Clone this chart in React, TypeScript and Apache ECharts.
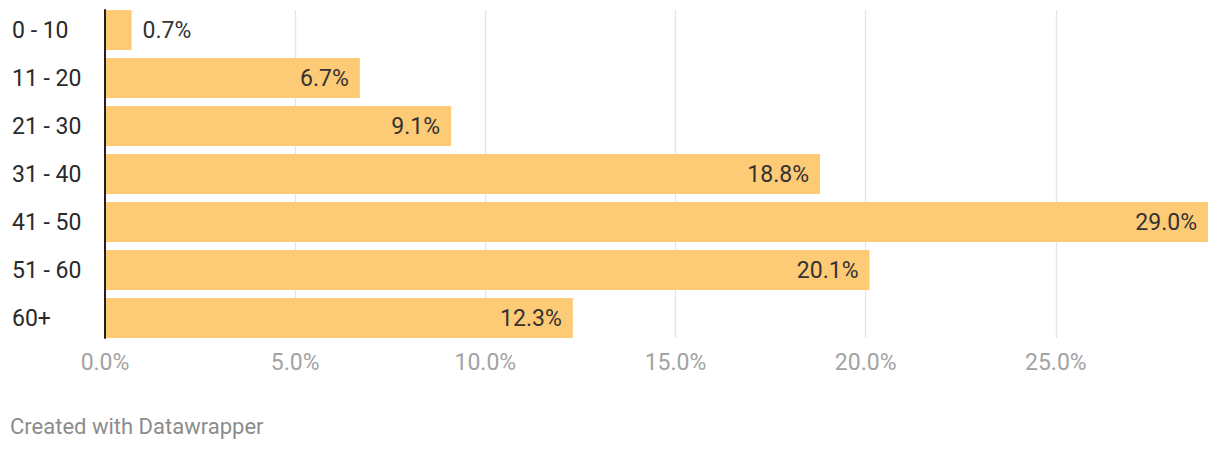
import React, { useEffect, useRef } from "react";
import * as echarts from "echarts";

const categories = ["0 - 10", "11 - 20", "21 - 30", "31 - 40", "41 - 50", "51 - 60", "60+"];
const values = [0.7, 6.7, 9.1, 18.8, 29.0, 20.1, 12.3];
const xTicks = [0, 5, 10, 15, 20, 25];
const footer = "Created with Datawrapper";

const FONT = "Roboto, 'Noto Sans', sans-serif";

export default function App() {
  const ref = useRef<HTMLDivElement>(null);
  useEffect(() => {
    if (!ref.current) return;
    const chart = echarts.init(ref.current, null, { renderer: "svg" });
    const xMax = values.reduce((a, b) => Math.max(a, b), 0);
    chart.setOption({
      animation: false,
      textStyle: { fontFamily: FONT },
      grid: [
        { left: 105, right: 12, top: 6, height: 336 },
        { left: 105, right: 12, top: 10, height: 328 },
      ],
      xAxis: [
        { gridIndex: 0, type: "value", min: 0, max: xMax, show: false },
        {
          gridIndex: 1,
          type: "value",
          min: 0,
          max: xMax,
          interval: 5,
          axisLine: { show: false },
          axisTick: { show: false },
          splitLine: {
            show: true,
            showMaxLine: false,
            lineStyle: { color: "#e5e5e5", width: 1.3 },
          },
          axisLabel: {
            color: "#a3a3a3",
            fontSize: 23,
            fontFamily: FONT,
            margin: 13,
            showMaxLabel: false,
            formatter: (v: number) => (xTicks.includes(v) ? v.toFixed(1) + "%" : ""),
          },
        },
      ],
      yAxis: [
        {
          gridIndex: 0,
          type: "category",
          data: categories,
          inverse: true,
          axisLine: { show: false },
          axisTick: { show: false },
          axisLabel: {
            align: "left",
            margin: 93,
            color: "#2a2a2a",
            fontSize: 23,
            fontFamily: FONT,
          },
        },
        {
          gridIndex: 1,
          type: "category",
          data: categories,
          inverse: true,
          axisLine: { show: true, lineStyle: { color: "#222", width: 2 } },
          axisTick: { show: false },
          axisLabel: { show: false },
          z: 10,
        },
      ],
      series: [
        {
          type: "bar",
          xAxisIndex: 0,
          yAxisIndex: 0,
          barCategoryGap: "16.67%",
          itemStyle: { color: "#fdca76" },
          data: values.map((v) => ({
            value: v,
            label: {
              show: true,
              position: v < 2 ? "right" : "insideRight",
              distance: 11,
              color: "#333",
              fontSize: 23,
              fontFamily: FONT,
              formatter: (p: any) => Number(p.value).toFixed(1) + "%",
            },
          })),
        },
      ],
      graphic: [
        {
          type: "text",
          left: 10,
          top: 415,
          style: { text: footer, fill: "#8c8c8c", fontSize: 22, fontFamily: FONT },
        },
      ],
    });
    return () => chart.dispose();
  }, []);
  return (
    <div
      ref={ref}
      style={{ position: "absolute", left: 0, top: 0, width: 1220, height: 450 }}
    />
  );
}
